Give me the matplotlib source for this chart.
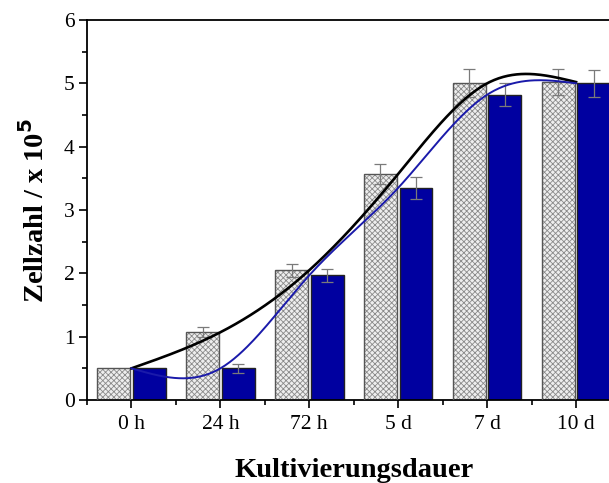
import numpy as np
import matplotlib.pyplot as plt
from matplotlib.ticker import MultipleLocator

# data
labels = ["0 h", "24 h", "72 h", "5 d", "7 d", "10 d"]
grey_vals = [0.50, 1.07, 2.05, 3.57, 5.00, 5.02]
grey_err = [0.00, 0.08, 0.10, 0.16, 0.22, 0.21]
blue_vals = [0.50, 0.50, 1.97, 3.35, 4.82, 5.00]
blue_err = [0.00, 0.07, 0.10, 0.17, 0.18, 0.21]


def natural_spline(x, y, n=300):
    # natural cubic spline through the means, like the fit curve in the original
    x = np.asarray(x, float)
    y = np.asarray(y, float)
    k = len(x)
    h = np.diff(x)
    A = np.zeros((k, k))
    r = np.zeros(k)
    A[0, 0] = A[-1, -1] = 1
    for i in range(1, k - 1):
        A[i, i - 1] = h[i - 1]
        A[i, i] = 2 * (h[i - 1] + h[i])
        A[i, i + 1] = h[i]
        r[i] = 3 * ((y[i + 1] - y[i]) / h[i] - (y[i] - y[i - 1]) / h[i - 1])
    c = np.linalg.solve(A, r)
    xs = np.linspace(x[0], x[-1], n)
    ys = np.empty_like(xs)
    for j, xv in enumerate(xs):
        i = min(np.searchsorted(x, xv, side="right") - 1, k - 2)
        b = (y[i + 1] - y[i]) / h[i] - h[i] * (2 * c[i] + c[i + 1]) / 3
        d = (c[i + 1] - c[i]) / (3 * h[i])
        t = xv - x[i]
        ys[j] = y[i] + b * t + c[i] * t ** 2 + d * t ** 3
    return xs, ys


plt.rcParams["font.family"] = ["Liberation Serif", "DejaVu Serif"]
plt.rcParams["hatch.linewidth"] = 0.6

fig = plt.figure(figsize=(6.09, 4.83), dpi=100)
ax = fig.add_axes([0.1429, 0.1718, 0.876, 0.7868])

x = np.arange(len(labels))
w = 0.37
navy = "#0000a0"

ax.bar(x - 0.2, grey_vals, w, color="#eeeeee", hatch="xxxxxx",
       edgecolor="#8a8a8a", linewidth=0, zorder=2)
ax.bar(x - 0.2, grey_vals, w, fill=False, edgecolor="#555555",
       linewidth=1.0, zorder=3)
ax.bar(x + 0.2, blue_vals, w, color=navy, edgecolor="#222222",
       linewidth=1.0, zorder=2)

ax.errorbar(x[1:] - 0.2, grey_vals[1:], yerr=grey_err[1:], fmt="none",
            ecolor="#7a7a7a", elinewidth=0.9, capsize=4, capthick=0.9, zorder=4)
ax.errorbar(x[1:] + 0.2, blue_vals[1:], yerr=blue_err[1:], fmt="none",
            ecolor="#7a7a7a", elinewidth=0.9, capsize=4, capthick=0.9, zorder=4)

xs, ys = natural_spline(x, grey_vals)
ax.plot(xs, ys, color="black", lw=1.9, zorder=5)
xs, ys = natural_spline(x, blue_vals)
ax.plot(xs, ys, color="#1a1aaa", lw=1.4, zorder=5)

ax.set_xlim(-0.5, 5.5)
ax.set_ylim(0, 6)
ax.set_xticks(x)
ax.set_xticklabels(labels)
ax.xaxis.set_minor_locator(MultipleLocator(1, offset=0.5))
ax.yaxis.set_major_locator(MultipleLocator(1))
ax.yaxis.set_minor_locator(MultipleLocator(0.5))
ax.tick_params(which="both", direction="out", labelsize=15.5, width=1.2)
ax.tick_params(which="major", length=6)
ax.tick_params(which="minor", length=3.5)
ax.tick_params(axis="x", pad=5)
ax.tick_params(axis="y", pad=3)
ax.spines["right"].set_visible(False)
for s in ["left", "top", "bottom"]:
    ax.spines[s].set_linewidth(1.3)

ax.set_ylabel(r"Zellzahl / x 10$^\mathbf{5}$", fontsize=20.5, fontweight="bold", labelpad=10)
ax.set_xlabel("Kultivierungsdauer", fontsize=20.5, fontweight="bold", labelpad=17)

fig.savefig("out.png", dpi=100)
